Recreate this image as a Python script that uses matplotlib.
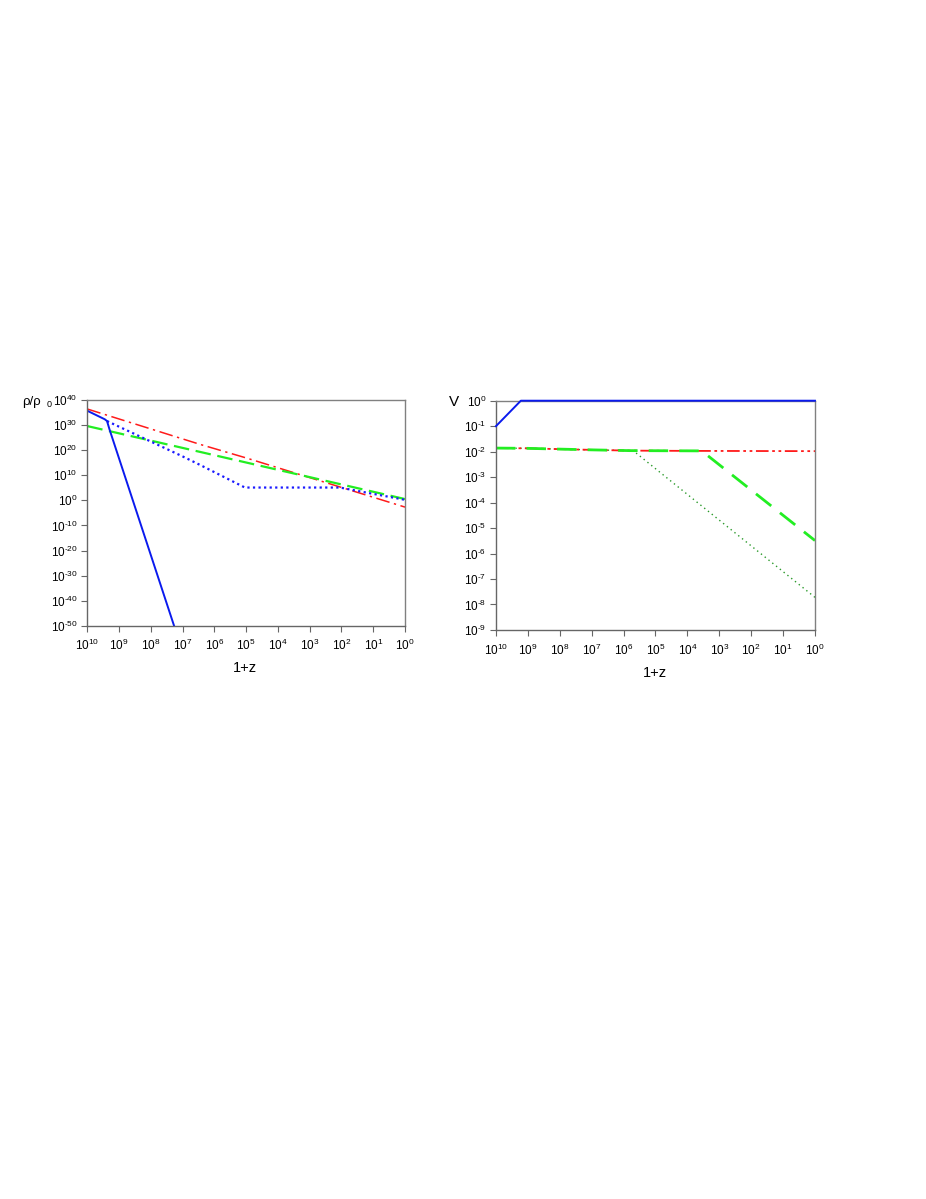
# -*- coding: utf-8 -*-
"""
密度比与 V 随 1+z 的演化（两幅对数坐标图）
"""
import matplotlib
matplotlib.use('Agg')
import matplotlib.pyplot as plt
import numpy as np
from matplotlib.ticker import FixedLocator, FuncFormatter, NullLocator

plt.rcParams['font.family'] = ['Liberation Sans', 'DejaVu Sans']
plt.rcParams['mathtext.default'] = 'regular'
plt.rcParams['axes.unicode_minus'] = False

# ============================================================
# 数据（横坐标为 log10(1+z)，纵坐标为 log10 值）
# ============================================================
# 左图 rho/rho_0
left_blue_x = [10.0, 9.45, 9.38, 9.30, 7.27]
left_blue_y = [35.7, 32.3, 31.6, 28.2, -50.0]

left_dot_x = [9.38, 7.0, 6.45, 5.04, 3.5, 2.05, 1.2, 0.0]
left_dot_y = [31.6, 17.5, 14.1, 5.1, 5.1, 5.1, 3.05, 0.2]

left_green_x = [10.0, 6.45, 0.0]
left_green_y = [29.6, 19.3, 0.5]

left_red_x = [10.0, 6.45, 5.0, 0.0]
left_red_y = [36.4, 22.3, 16.9, -2.7]

# 右图 V
right_blue_x = [10.0, 9.22, 0.0]
right_blue_y = [-1.0, 0.0, 0.0]

right_red_x = [10.0, 9.0, 8.7, 7.0, 5.8, 4.0, 0.0]
right_red_y = [-1.86, -1.87, -1.88, -1.93, -1.96, -1.97, -1.98]

right_gdash_x = [10.0, 9.0, 8.7, 7.0, 5.8, 3.55, 0.0]
right_gdash_y = [-1.86, -1.87, -1.88, -1.93, -1.96, -1.97, -5.49]

right_gdot_x = [10.0, 9.0, 8.7, 7.0, 5.7, 0.0]
right_gdot_y = [-1.86, -1.87, -1.88, -1.93, -1.96, -7.72]

left_yticks = list(range(40, -51, -10))
right_yticks = list(range(0, -10, -1))
xticks = list(range(10, -1, -1))


def pw(v):
    return np.power(10.0, np.array(v, dtype=float))


def sup_fmt(val, pos):
    e = int(round(np.log10(val)))
    s = str(e).replace('-', '\u2010')
    return r'$10^{%s}$' % s


def style_axes(ax, yticks, ylim):
    ax.set_xscale('log')
    ax.set_yscale('log')
    ax.set_xlim(1e10, 1e0)
    ax.set_ylim(10.0 ** ylim[0], 10.0 ** ylim[1])
    ax.xaxis.set_major_locator(FixedLocator([10.0 ** t for t in xticks]))
    ax.yaxis.set_major_locator(FixedLocator([10.0 ** t for t in yticks]))
    ax.xaxis.set_minor_locator(NullLocator())
    ax.yaxis.set_minor_locator(NullLocator())
    ax.xaxis.set_major_formatter(FuncFormatter(sup_fmt))
    ax.yaxis.set_major_formatter(FuncFormatter(sup_fmt))
    ax.tick_params(direction='out', length=4, width=0.8, color='#666666',
                   labelsize=8.5, pad=3)
    ax.tick_params(axis='x', pad=5)
    for s in ax.spines.values():
        s.set_color('#808080')
        s.set_linewidth(1.0)
    ax.spines['left'].set_color('#666666')
    ax.spines['bottom'].set_color('#666666')


fig = plt.figure(figsize=(9.26, 11.99), dpi=100)

# 左图
ax1 = fig.add_axes([0.0943, 0.4781, 0.3431, 0.1883])
ax1.plot(pw(left_red_x), pw(left_red_y), color='#ff1a1a', lw=1.1,
         dashes=(9, 3, 1.5, 3))
ax1.plot(pw(left_green_x), pw(left_green_y), color='#22ee22', lw=1.6,
         dashes=(7, 3))
ax1.plot(pw(left_dot_x), pw(left_dot_y), color='#1a1aff', lw=1.6,
         linestyle=(0, (1, 1.5)))
ax1.plot(pw(left_blue_x), pw(left_blue_y), color='#0a1aee', lw=1.4)
style_axes(ax1, left_yticks, (-50, 40))
fig.text(22 / 926, 1 - 405 / 1199, 'ρ/ρ', fontsize=9.5,
         va='baseline', ha='left')
fig.text(47 / 926, 1 - 407.5 / 1199, '0', fontsize=6.5,
         va='baseline', ha='left')
fig.text(245 / 926, 1 - 672 / 1199, '1+z', fontsize=10.5,
         ha='center', va='baseline')

# 右图
ax2 = fig.add_axes([0.5356, 0.4746, 0.3445, 0.1912])
ax2.plot(pw(right_blue_x), pw(right_blue_y), color='#0a1aee', lw=1.4,
         clip_on=False, zorder=5)
ax2.plot(pw(right_gdot_x), pw(right_gdot_y), color='#2a9a2a', lw=1.0,
         linestyle=(0, (1, 2.5)))
ax2.plot(pw(right_red_x), pw(right_red_y), color='#ff1a1a', lw=1.3,
         dashes=(7, 2, 1.5, 2, 1.5, 2))
ax2.plot(pw(right_gdash_x), pw(right_gdash_y), color='#22ee22', lw=2.0,
         dashes=(7, 4))
style_axes(ax2, right_yticks, (-9, 0))
fig.text(449 / 926, 1 - 406 / 1199, 'V', fontsize=11, ha='left',
         va='baseline')
fig.text(655 / 926, 1 - 677 / 1199, '1+z', fontsize=10.5,
         ha='center', va='baseline')

plt.savefig('out.png', dpi=100)
plt.close()
